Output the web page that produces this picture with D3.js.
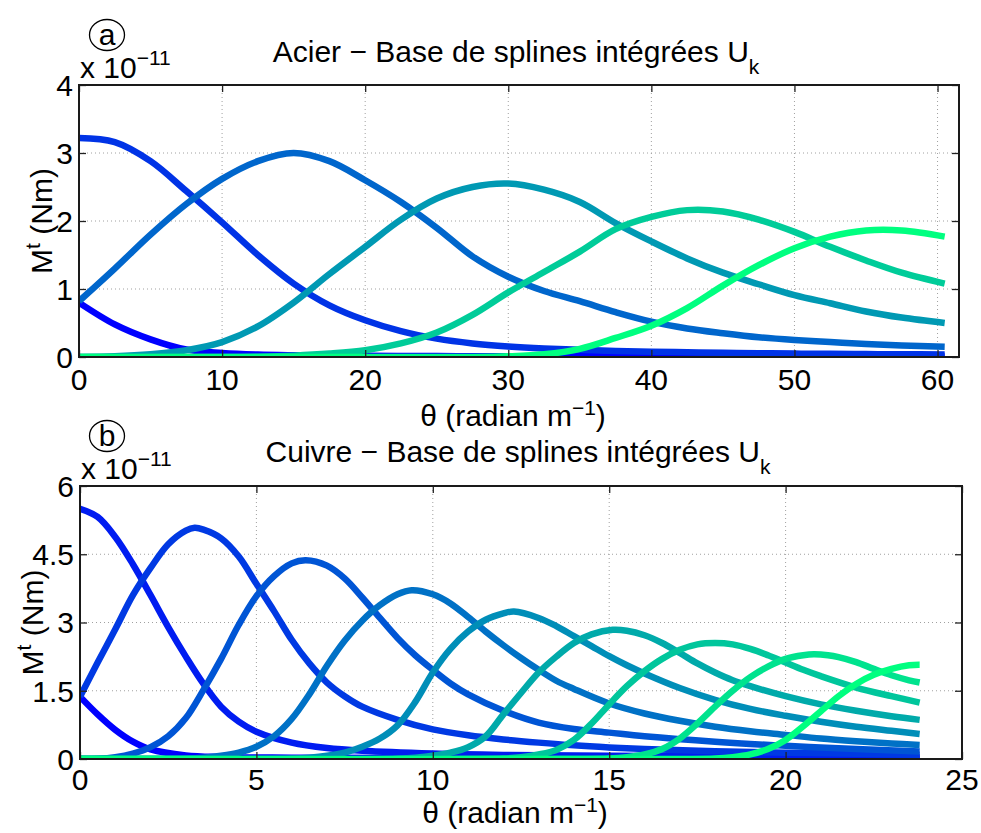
<!DOCTYPE html>
<html><head><meta charset="utf-8">
<script src="https://cdn.jsdelivr.net/npm/d3@7"></script>
<style>
body{margin:0;background:#fff}
svg{display:block}
text{font-family:"Liberation Sans",Arial,Helvetica,sans-serif;fill:#000}
</style>
</head><body>
<svg id="c" width="981" height="833"></svg>
<script>
// ---------------- DATA ----------------
// Panel (a): Acier
const acierTheta = [0,2.5,5,7.5,10,12.5,15,17.5,20,22.5,25,27.5,30,32.5,35,37.5,40,42.5,45,47.5,50,52.5,55,57.5,60.5];
const acierU1 = [0.80,0.48,0.26,0.11,0.06,0.035,0.025,0.02,0.017,0.015,0.013,0.012,0.011,0.010,0.010,0.009,0.009,0.008,0.008,0.008,0.007,0.007,0.007,0.007,0.006];
const acierU2 = [3.22,3.16,2.88,2.44,1.98,1.50,1.08,0.76,0.54,0.38,0.27,0.20,0.155,0.125,0.105,0.09,0.078,0.07,0.062,0.056,0.05,0.046,0.043,0.04,0.037];
const acierU3 = [0.82,1.30,1.80,2.25,2.62,2.88,3.00,2.88,2.60,2.28,1.90,1.48,1.18,0.97,0.82,0.66,0.52,0.42,0.35,0.29,0.25,0.22,0.19,0.17,0.15];
const acierU4 = [0,0.01,0.04,0.10,0.22,0.45,0.80,1.22,1.62,2.02,2.33,2.50,2.55,2.46,2.28,1.97,1.70,1.45,1.24,1.07,0.91,0.79,0.67,0.58,0.50];
const acierU5 = [0,0,0,0,0,0.005,0.02,0.05,0.10,0.20,0.36,0.62,0.95,1.25,1.55,1.88,2.06,2.16,2.14,2.02,1.84,1.62,1.42,1.24,1.08];
const acierU6 = [0,0,0,0,0,0,0,0,0,0,0,0,0.01,0.04,0.12,0.28,0.46,0.72,1.05,1.35,1.60,1.77,1.86,1.86,1.77];
const acierColors = ["#0000ff","#0033e6","#0066cc","#0099b3","#00cc99","#00ff80"];
const acierXTicks = [0,10,20,30,40,50,60];
const acierYTicks = [0,1,2,3,4];
const acierYTickLabels = ["0","1","2","3","4"];

// Panel (b): Cuivre  ([theta, value] pairs)
const cuivreU1 = [[0,1.37],[0.5,0.98],[1,0.64],[1.5,0.38],[2,0.21],[3,0.08],[4,0.045],[6,0.03],[10,0.02],[16,0.015],[23.8,0.01]];
const cuivreU2 = [[0,5.5],[0.5,5.32],[1,4.88],[1.5,4.28],[2,3.6],[2.5,2.9],[3,2.25],[3.5,1.65],[4,1.15],[4.5,0.82],[5,0.6],[6,0.36],[7,0.24],[8,0.18],[10,0.12],[12,0.09],[15,0.07],[20,0.05],[23.8,0.04]];
const cuivreU3 = [[0,1.37],[0.5,2.12],[1,2.85],[1.5,3.6],[2,4.2],[2.5,4.72],[3,5.02],[3.25,5.08],[3.5,5.04],[4,4.85],[4.5,4.45],[5,3.85],[5.5,3.25],[6,2.62],[6.5,2.1],[7,1.68],[7.5,1.38],[8,1.15],[9,0.86],[10,0.65],[11,0.52],[12,0.43],[13,0.36],[14,0.3],[15,0.255],[16,0.22],[18,0.17],[20,0.14],[22,0.115],[23.8,0.095]];
const cuivreU4 = [[0,0],[0.5,0.005],[1,0.04],[1.5,0.12],[2,0.26],[2.5,0.5],[3,0.9],[3.5,1.52],[4,2.2],[4.5,2.95],[5,3.58],[5.5,4.02],[6,4.3],[6.4,4.37],[7,4.25],[7.5,3.97],[8,3.55],[8.5,3.1],[9,2.66],[9.5,2.28],[10,1.96],[10.5,1.66],[11,1.42],[12,1.06],[13,0.8],[14,0.66],[15,0.58],[16,0.5],[18,0.38],[20,0.29],[22,0.22],[23.8,0.165]];
const cuivreU5 = [[0,0],[2,0],[3,0.01],[3.5,0.03],[4,0.07],[4.5,0.14],[5,0.27],[5.5,0.5],[6,0.88],[6.5,1.42],[7,2.05],[7.5,2.6],[8,3.04],[8.5,3.38],[9,3.62],[9.4,3.71],[10,3.62],[10.5,3.42],[11,3.12],[11.5,2.8],[12,2.5],[12.5,2.22],[13,1.96],[13.5,1.72],[14,1.54],[15,1.22],[16,1.0],[17,0.84],[18,0.71],[19,0.61],[20,0.53],[21,0.45],[22,0.39],[23,0.34],[23.8,0.31]];
const cuivreU6 = [[0,0],[5,0],[6,0.01],[6.5,0.03],[7,0.07],[7.5,0.14],[8,0.27],[8.5,0.45],[9,0.74],[9.5,1.25],[10,1.9],[10.5,2.42],[11,2.8],[11.5,3.06],[12,3.2],[12.3,3.24],[13,3.1],[13.5,2.92],[14,2.7],[14.5,2.48],[15,2.26],[15.5,2.06],[16,1.88],[17,1.56],[18,1.3],[19,1.1],[20,0.95],[21,0.82],[22,0.71],[23,0.62],[23.8,0.55]];
const cuivreU7 = [[0,0],[8,0],[9,0.01],[9.5,0.03],[10,0.07],[10.5,0.14],[11,0.26],[11.5,0.5],[12,0.98],[12.5,1.45],[13,1.9],[13.5,2.25],[14,2.55],[14.5,2.74],[15.1,2.84],[15.5,2.82],[16,2.72],[16.5,2.55],[17,2.33],[17.5,2.1],[18,1.9],[18.5,1.73],[19,1.6],[20,1.38],[21,1.2],[22,1.06],[23,0.94],[23.8,0.86]];
const cuivreU8 = [[0,0],[11,0],[12,0.01],[12.5,0.04],[13,0.1],[13.5,0.2],[14,0.42],[14.5,0.78],[15,1.2],[15.5,1.6],[16,1.93],[16.5,2.2],[17,2.4],[17.5,2.52],[18,2.55],[18.5,2.52],[19,2.42],[19.5,2.28],[20,2.12],[20.5,1.96],[21,1.82],[22,1.57],[23,1.38],[23.8,1.24]];
const cuivreU9 = [[0,0],[14,0],[15,0.01],[15.5,0.04],[16,0.1],[16.5,0.22],[17,0.45],[17.5,0.78],[18,1.15],[18.5,1.5],[19,1.8],[19.5,2.03],[20,2.2],[20.5,2.28],[20.8,2.3],[21.2,2.28],[21.5,2.24],[22,2.13],[22.5,1.98],[23,1.84],[23.5,1.73],[23.8,1.68]];
const cuivreU10 = [[0,0],[17,0],[18,0.01],[18.5,0.04],[19,0.1],[19.5,0.22],[20,0.42],[20.5,0.72],[21,1.05],[21.5,1.38],[22,1.65],[22.5,1.85],[23,1.98],[23.5,2.06],[23.8,2.07]];
const cuivreColors = ["#0000ff","#001cf1","#0039e3","#0055d5","#0071c6","#008eb8","#00aaaa","#00c69c","#00e38e","#00ff80"];
const cuivreXTicks = [0,5,10,15,20,25];
const cuivreYTicks = [0,1.5,3,4.5,6];
const cuivreYTickLabels = ["0","1.5","3","4.5","6"];

// ---------------- DRAWING ----------------
const svg = d3.select("#c");
const FONT = 30, SUP = 21;

function panel(cfg) {
  const x = d3.scaleLinear().domain(cfg.xDomain).range([cfg.left, cfg.right]);
  const y = d3.scaleLinear().domain(cfg.yDomain).range([cfg.bottom, cfg.top]);
  const g = svg.append("g");
  const clipId = "clip" + cfg.id;
  svg.append("defs").append("clipPath").attr("id", clipId)
    .append("rect").attr("x", cfg.left).attr("y", cfg.top)
    .attr("width", cfg.right - cfg.left).attr("height", cfg.bottom - cfg.top);

  // grid
  const grid = g.append("g").attr("stroke", "#a0a0a0").attr("stroke-width", 1).attr("stroke-dasharray", "1,3");
  cfg.xTicks.forEach(t => {
    if (x(t) > cfg.left + 1 && x(t) < cfg.right - 1)
      grid.append("line").attr("x1", x(t)).attr("x2", x(t)).attr("y1", cfg.top).attr("y2", cfg.bottom);
  });
  cfg.yTicks.forEach(t => {
    if (y(t) > cfg.top + 1 && y(t) < cfg.bottom - 1)
      grid.append("line").attr("x1", cfg.left).attr("x2", cfg.right).attr("y1", y(t)).attr("y2", y(t));
  });

  // lines
  const line = d3.line().x(d => x(d[0])).y(d => y(d[1])).curve(d3.curveCatmullRom.alpha(0.5));
  const lg = g.append("g").attr("clip-path", `url(#${clipId})`);
  cfg.series.forEach((s, i) => {
    lg.append("path").attr("d", line(s)).attr("fill", "none")
      .attr("stroke", cfg.colors[i]).attr("stroke-width", 6.5)
      .attr("stroke-linejoin", "round").attr("stroke-linecap", "butt");
  });

  // axes (MATLAB style: inside ticks on all sides)
  const tl = 7;
  const axB = d3.axisBottom(x).tickValues(cfg.xTicks).tickSize(-tl).tickFormat("");
  const axT = d3.axisTop(x).tickValues(cfg.xTicks).tickSize(-tl).tickFormat("");
  const axL = d3.axisLeft(y).tickValues(cfg.yTicks).tickSize(-tl).tickFormat("");
  const axR = d3.axisRight(y).tickValues(cfg.yTicks).tickSize(-tl).tickFormat("");
  [[axB, `translate(0,${cfg.bottom})`], [axT, `translate(0,${cfg.top})`],
   [axL, `translate(${cfg.left},0)`], [axR, `translate(${cfg.right},0)`]].forEach(([ax, tr]) => {
    const a = g.append("g").attr("transform", tr).call(ax);
    a.select(".domain").remove();
    a.selectAll("line").attr("stroke", "#222").attr("stroke-width", 1.3);
  });
  g.append("rect").attr("x", cfg.left).attr("y", cfg.top)
    .attr("width", cfg.right - cfg.left).attr("height", cfg.bottom - cfg.top)
    .attr("fill", "none").attr("stroke", "#1a1a1a").attr("stroke-width", 2);

  // tick labels
  cfg.xTicks.forEach(t => {
    g.append("text").attr("x", x(t)).attr("y", cfg.xTickBase).attr("text-anchor", "middle")
      .attr("font-size", FONT).text(d3.format("d")(t));
  });
  cfg.yTicks.forEach((t, i) => {
    g.append("text").attr("x", cfg.left - 6).attr("y", y(t)).attr("dy", "0.36em").attr("text-anchor", "end")
      .attr("font-size", FONT).text(cfg.yTickLabels[i]);
  });

  // exponent
  const ex = g.append("text").attr("x", cfg.left + 1).attr("y", cfg.top - 7).attr("font-size", FONT);
  ex.append("tspan").text("x 10");
  ex.append("tspan").attr("dy", -13).attr("font-size", SUP).text("\u221211");

  // x label
  const xl = g.append("text").attr("x", (cfg.left + cfg.right) / 2 - 6).attr("y", cfg.xLabelBase)
    .attr("text-anchor", "middle").attr("font-size", FONT);
  xl.append("tspan").text("\u03b8 (radian m");
  xl.append("tspan").attr("dy", -11).attr("font-size", SUP).text("\u22121");
  xl.append("tspan").attr("dy", 11).text(")");

  // y label
  const yl = g.append("text").attr("transform", `translate(${cfg.yLabelX},${(cfg.top + cfg.bottom) / 2}) rotate(-90)`)
    .attr("text-anchor", "middle").attr("font-size", FONT);
  yl.append("tspan").text("M");
  yl.append("tspan").attr("dy", -12).attr("font-size", SUP).text("t");
  yl.append("tspan").attr("dy", 12).text(" (Nm)");

  // title
  const ti = g.append("text").attr("x", (cfg.left + cfg.right) / 2 - 3).attr("y", cfg.titleBase)
    .attr("text-anchor", "middle").attr("font-size", FONT);
  ti.append("tspan").text(cfg.title);
  ti.append("tspan").attr("dy", 12).attr("font-size", SUP).text("k");

  // circled letter
  g.append("ellipse").attr("cx", cfg.badge[0]).attr("cy", cfg.badge[1]).attr("rx", 17.5).attr("ry", 15.5)
    .attr("fill", "none").attr("stroke", "#000").attr("stroke-width", 1.3);
  g.append("text").attr("x", cfg.badge[0]).attr("y", cfg.badge[1]).attr("dy", "0.34em")
    .attr("text-anchor", "middle").attr("font-size", 30).text(cfg.letter);
}

panel({
  id: "a", left: 79, right: 959, top: 85, bottom: 357,
  xDomain: [0, 61.5], yDomain: [0, 4],
  xTicks: acierXTicks, yTicks: acierYTicks, yTickLabels: acierYTickLabels,
  series: [acierU1, acierU2, acierU3, acierU4, acierU5, acierU6].map(v => d3.zip(acierTheta, v)),
  colors: acierColors,
  xTickBase: 390, xLabelBase: 426, yLabelX: 52, titleBase: 62,
  title: "Acier \u2212 Base de splines int\u00e9gr\u00e9es U",
  badge: [107, 35], letter: "a"
});

panel({
  id: "b", left: 80, right: 962, top: 486, bottom: 759,
  xDomain: [0, 25], yDomain: [0, 6],
  xTicks: cuivreXTicks, yTicks: cuivreYTicks, yTickLabels: cuivreYTickLabels,
  series: [cuivreU1, cuivreU2, cuivreU3, cuivreU4, cuivreU5, cuivreU6, cuivreU7, cuivreU8, cuivreU9, cuivreU10],
  colors: cuivreColors,
  xTickBase: 790, xLabelBase: 823, yLabelX: 43, titleBase: 462,
  title: "Cuivre \u2212 Base de splines int\u00e9gr\u00e9es U",
  badge: [107, 436], letter: "b"
});
</script>
</body></html>
